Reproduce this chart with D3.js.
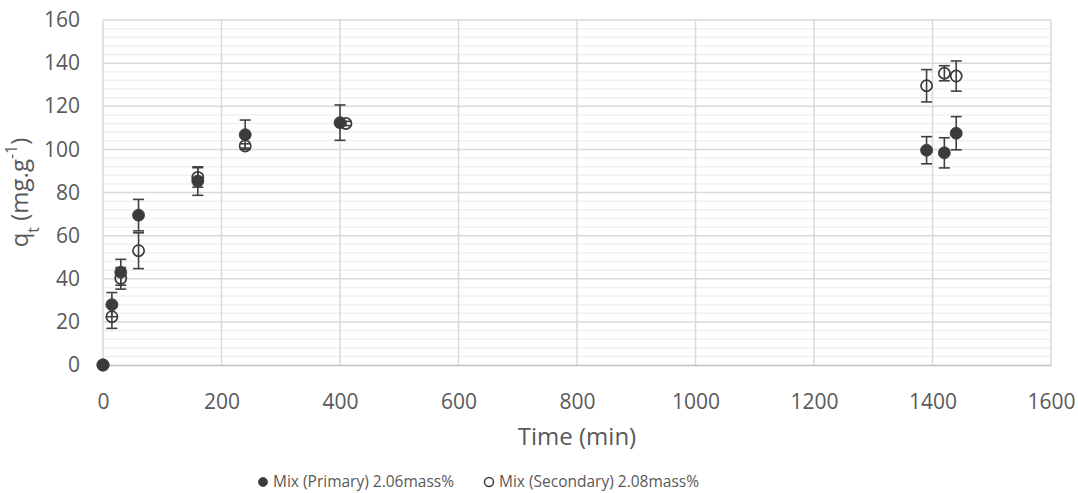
<!DOCTYPE html>
<meta charset="utf-8">
<style>
body { margin: 0; background: #fff; }
text { font-family: "Open Sans", sans-serif; fill: #595959; }
</style>
<body>
<script src="https://d3js.org/d3.v7.min.js"></script>
<script>
var primaryTime = [0, 15, 30, 60, 160, 240, 400, 1390, 1420, 1440];
var primaryQ    = [0, 28, 43, 69.5, 85.3, 106.8, 112.4, 99.6, 98.4, 107.5];
var primaryErr  = [0, 5.6, 6, 7.3, 6.6, 6.8, 8.2, 6.3, 7, 7.7];

var secondaryTime = [0, 15, 30, 60, 160, 240, 410, 1390, 1420, 1440];
var secondaryQ    = [0, 22.4, 40.2, 53, 87, 101.6, 112, 129.5, 135.3, 134];
var secondaryErr  = [0, 5.4, 5, 8.3, 4.5, 1, 1, 7.5, 3.5, 7];

var xTicks = [0, 200, 400, 600, 800, 1000, 1200, 1400, 1600];
var yTicks = [0, 20, 40, 60, 80, 100, 120, 140, 160];

var seriesNames = ["Mix (Primary) 2.06mass%", "Mix (Secondary) 2.08mass%"];

var width = 1078,
    height = 493;
var margin = {top: 20, right: 27, bottom: 128, left: 103};

var svg = d3.select("body").append("svg")
    .attr("width", width)
    .attr("height", height);

var x = d3.scaleLinear().domain([0, 1600]).range([margin.left, width - margin.right]);
var y = d3.scaleLinear().domain([0, 160]).range([height - margin.bottom, margin.top]);

// minor horizontal grid
svg.append("g").selectAll("line")
    .data(d3.range(4, 160, 4).filter(d => d % 20 != 0))
    .enter().append("line")
    .attr("x1", x(0)).attr("x2", x(1600))
    .attr("y1", d => y(d)).attr("y2", d => y(d))
    .attr("stroke", "#f0f0f0").attr("stroke-width", 1.5);

// major grid
svg.append("g").selectAll("line")
    .data(yTicks.slice(1))
    .enter().append("line")
    .attr("x1", x(0)).attr("x2", x(1600))
    .attr("y1", d => y(d)).attr("y2", d => y(d))
    .attr("stroke", "#d9d9d9").attr("stroke-width", 1.5);

svg.append("g").selectAll("line")
    .data(xTicks)
    .enter().append("line")
    .attr("x1", d => x(d)).attr("x2", d => x(d))
    .attr("y1", y(0)).attr("y2", y(160))
    .attr("stroke", "#d9d9d9").attr("stroke-width", 1.5);

// axes
var xAxis = svg.append("g")
    .attr("transform", "translate(0," + y(0) + ")")
    .call(d3.axisBottom(x).tickValues(xTicks).tickFormat(d3.format("d")).tickSize(0).tickPadding(29));
xAxis.select(".domain").attr("stroke", "#bfbfbf").attr("stroke-width", 1.5);
xAxis.selectAll("text").style("font-size", "21px").attr("fill", "#595959");

var yAxis = svg.append("g")
    .attr("transform", "translate(" + x(0) + ",0)")
    .call(d3.axisLeft(y).tickValues(yTicks).tickSize(0).tickPadding(23));
yAxis.select(".domain").remove();
yAxis.selectAll("text").style("font-size", "21px").attr("fill", "#595959");

// axis titles
svg.append("text")
    .attr("x", 577)
    .attr("y", 445)
    .attr("text-anchor", "middle")
    .style("font-size", "24px")
    .text("Time (min)");

var yt = svg.append("text")
    .attr("transform", "translate(28," + (y(0) + y(160)) / 2 + ") rotate(-90)")
    .attr("text-anchor", "middle")
    .style("font-size", "24px");
yt.append("tspan").text("q");
yt.append("tspan").attr("baseline-shift", "sub").style("font-size", "16px").text("t");
yt.append("tspan").text(" (mg.g");
yt.append("tspan").attr("baseline-shift", "super").style("font-size", "16px").text("-1");
yt.append("tspan").text(")");

// error bars + markers
function drawSeries(times, vals, errs, filled) {
  var pts = times.map((t, i) => ({t: t, q: vals[i], e: errs[i]}));
  var g = svg.append("g");
  var eb = g.selectAll(".eb").data(pts.filter(d => d.e > 0)).enter().append("g")
      .attr("stroke", "#404040").attr("stroke-width", 1.6);
  eb.append("line")
      .attr("x1", d => x(d.t)).attr("x2", d => x(d.t))
      .attr("y1", d => y(d.q - d.e)).attr("y2", d => y(d.q + d.e));
  [-1, 1].forEach(function(s) {
    eb.append("line")
      .attr("x1", d => x(d.t) - 5.5).attr("x2", d => x(d.t) + 5.5)
      .attr("y1", d => y(d.q + s * d.e)).attr("y2", d => y(d.q + s * d.e));
  });
  g.selectAll("circle").data(pts).enter().append("circle")
      .attr("cx", d => x(d.t)).attr("cy", d => y(d.q))
      .attr("r", filled ? 6 : 5.6)
      .attr("fill", filled ? "#3b3b3b" : "none")
      .attr("stroke", "#3b3b3b")
      .attr("stroke-width", filled ? 0.8 : 1.7);
}
drawSeries(primaryTime, primaryQ, primaryErr, true);
drawSeries(secondaryTime, secondaryQ, secondaryErr, false);

// legend
var legendX = [263, 489];
var lg = svg.append("g").selectAll("g").data(seriesNames).enter().append("g")
    .attr("transform", (d, i) => "translate(" + legendX[i] + ",482)");
lg.append("circle")
    .attr("r", 4.5)
    .attr("fill", (d, i) => i == 0 ? "#3b3b3b" : "none")
    .attr("stroke", "#3b3b3b")
    .attr("stroke-width", (d, i) => i == 0 ? 0.8 : 1.5);
lg.append("text")
    .attr("x", 10)
    .attr("dy", "0.35em")
    .style("font-size", "15.5px")
    .text(d => d);
</script>
</body>
</html>
